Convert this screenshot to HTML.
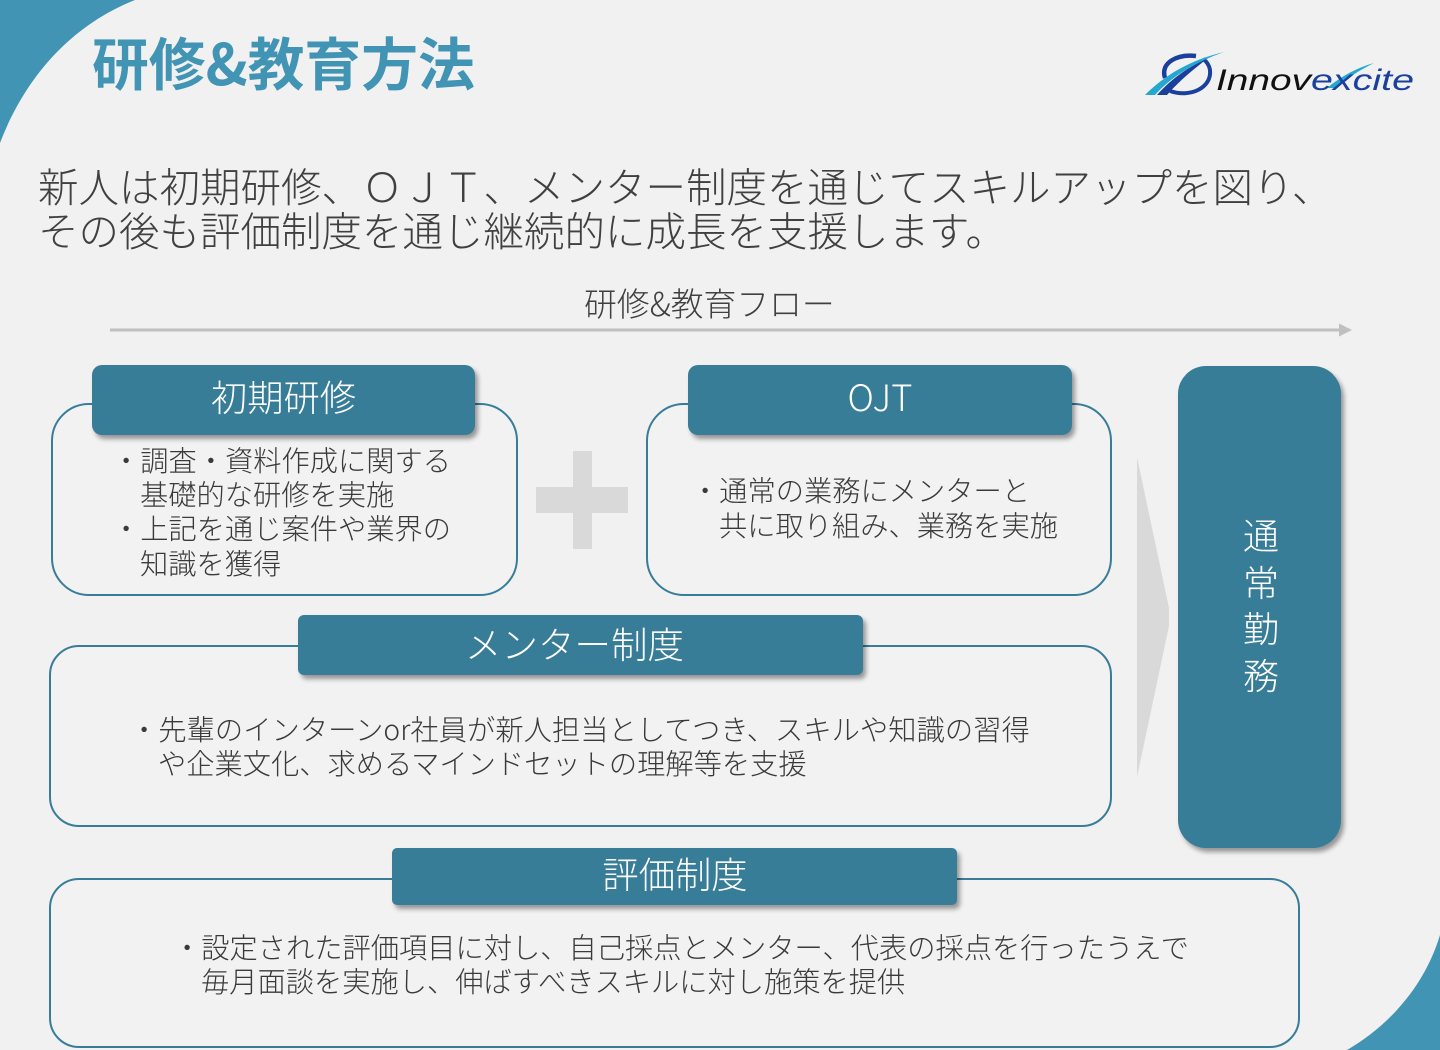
<!DOCTYPE html>
<html lang="ja"><head><meta charset="utf-8">
<style>
html,body{margin:0;padding:0}
body{width:1440px;height:1050px;position:relative;overflow:hidden;background:#f1f1f1;font-family:"Liberation Sans","Noto Sans CJK JP",sans-serif;font-weight:300}
.t{position:absolute;white-space:nowrap;line-height:1;font-family:"Noto Sans CJK JP","Liberation Sans",sans-serif;font-weight:300}
.b{position:absolute;box-sizing:border-box;border:2px solid #387d98;background:#f2f2f2}
.h{position:absolute;background:#387d98;border-radius:10px;box-shadow:3px 4px 5px rgba(0,0,0,.38);color:#fff;text-align:center;font-family:"Noto Sans CJK JP","Liberation Sans",sans-serif;font-weight:300;font-size:36.300px}
.d{color:#3a3a3a;font-size:28.250px}
svg{position:absolute;left:0;top:0}
</style></head><body>
<svg width="1440" height="1050" viewBox="0 0 1440 1050">
<path d="M0 0H135C70 26 25 78 0 143Z" fill="#4194b3"/>
<path d="M1440 935C1425 985 1390 1025 1347 1050H1440Z" fill="#4194b3"/>
<path d="M110 330H1340" stroke="#bfbfbf" stroke-width="3"/>
<path d="M1339 323.500L1352 330L1339 336.500Z" fill="#bfbfbf"/>
<path d="M573 451H592V549H573Z M536 487H628V513H536Z" fill="#d9d9d9"/>
<path d="M1137 457L1169 608V626L1137 777Z" fill="#d9d9d9"/>
</svg>
<div class="t" style="left:92px;top:33px;font-size:56.800px;font-weight:700;color:#4194b3;letter-spacing:0">研修&amp;教育方法</div>
<svg width="1440" height="1050" viewBox="0 0 1440 1050">
<path d="M1165 78C1160 62 1178 54 1196 56" fill="none" stroke="#1b3f9c" stroke-width="4.500"/>
<path d="M1170 91C1190 98 1212 88 1210 70C1209 64 1206 61 1203 59" fill="none" stroke="#1b3f9c" stroke-width="4"/>
<path d="M1157 95C1172 78 1190 66 1208 58C1194 69 1180 80 1167 95Z" fill="#1b3f9c"/>
<path d="M1145 95C1165 75 1190 60 1224 52C1195 62 1170 78 1155 95Z" fill="#25a8cf"/>
<path d="M1327 88C1342 76 1356 68 1374 63C1358 71 1346 79 1336 88Z" fill="#25a8cf"/>
<text x="1216" y="90" font-family="Liberation Sans" font-style="italic" font-size="30" fill="#111" textLength="95" lengthAdjust="spacingAndGlyphs">Innov</text>
<text x="1311" y="90" font-family="Liberation Sans" font-style="italic" font-size="30" fill="#1b3f9c" textLength="103" lengthAdjust="spacingAndGlyphs">excite</text>
</svg>
<div class="t" style="left:38px;top:165px;font-size:40.500px;color:#404040">新人は初期研修、ＯＪＴ、メンター制度を通じてスキルアップを図り、</div>
<div class="t" style="left:38px;top:209px;font-size:40.500px;color:#404040">その後も評価制度を通じ継続的に成長を支援します。</div>
<div class="t" style="left:584px;top:287px;font-size:32.800px;color:#404040">研修&amp;教育フロー</div>

<div class="b" style="left:51px;top:403px;width:467px;height:193px;border-radius:38px"></div>
<div class="h" style="left:92px;top:365px;width:383px;height:70px;line-height:63px">初期研修</div>
<div class="t d" style="left:112px;top:446px">・調査・資料作成に関する</div>
<div class="t d" style="left:140px;top:480px">基礎的な研修を実施</div>
<div class="t d" style="left:112px;top:514px">・上記を通じ案件や業界の</div>
<div class="t d" style="left:140px;top:549px">知識を獲得</div>

<div class="b" style="left:646px;top:403px;width:466px;height:193px;border-radius:38px"></div>
<div class="h" style="left:688px;top:365px;width:384px;height:70px;line-height:63px">OJT</div>
<div class="t d" style="left:691px;top:476px">・通常の業務にメンターと</div>
<div class="t d" style="left:719px;top:511px">共に取り組み、業務を実施</div>

<div class="b" style="left:49px;top:645px;width:1063px;height:182px;border-radius:30px"></div>
<div class="h" style="left:298px;top:615px;width:565px;height:60px;line-height:56px;border-radius:6px;text-indent:-12px;font-size:36.500px">メンター制度</div>
<div class="t d" style="left:130px;top:715px;letter-spacing:.06px">・先輩のインターンor社員が新人担当としてつき、スキルや知識の習得</div>
<div class="t d" style="left:158px;top:749px">や企業文化、求めるマインドセットの理解等を支援</div>

<div class="h" style="left:1178px;top:366px;width:163px;height:482px;border-radius:28px"></div>
<div class="t" style="left:1243px;top:516px;font-size:36px;color:#fff">通</div>
<div class="t" style="left:1243px;top:563px;font-size:36px;color:#fff">常</div>
<div class="t" style="left:1243px;top:609px;font-size:36px;color:#fff">勤</div>
<div class="t" style="left:1243px;top:656px;font-size:36px;color:#fff">務</div>

<div class="b" style="left:49px;top:878px;width:1251px;height:170px;border-radius:30px"></div>
<div class="h" style="left:392px;top:848px;width:565px;height:57px;line-height:50px;border-radius:5px;text-indent:1px">評価制度</div>
<div class="t d" style="left:173px;top:933px">・設定された評価項目に対し、自己採点とメンター、代表の採点を行ったうえで</div>
<div class="t d" style="left:201px;top:967px">毎月面談を実施し、伸ばすべきスキルに対し施策を提供</div>
</body></html>
